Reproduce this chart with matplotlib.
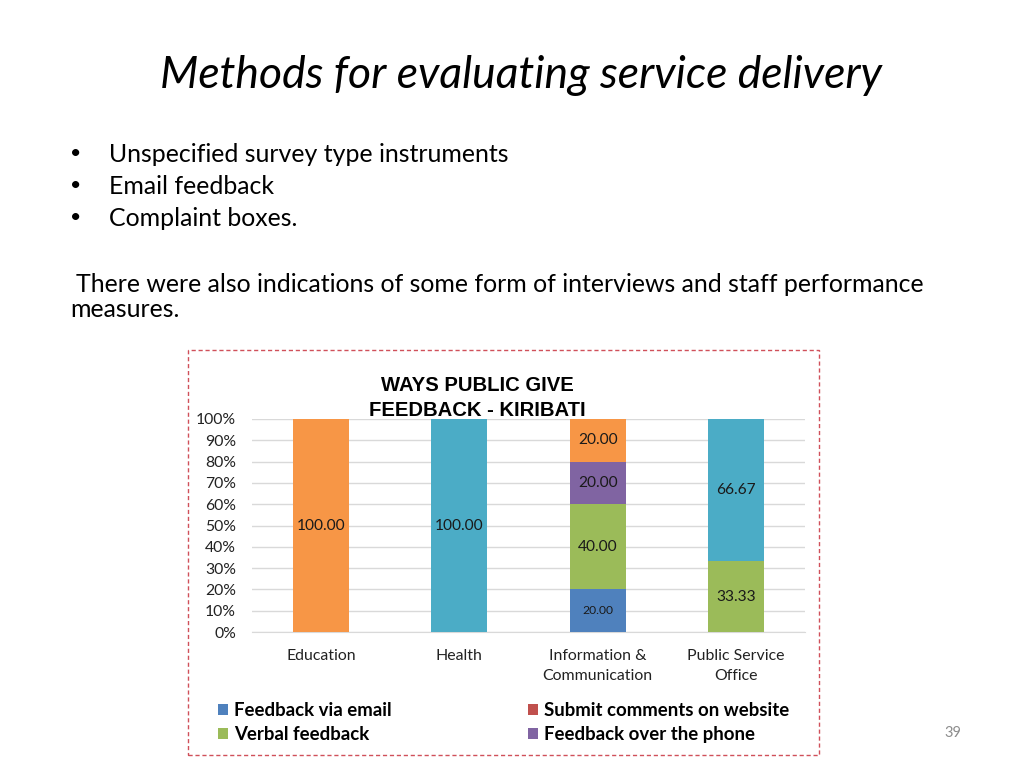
import numpy as np
import matplotlib.pyplot as plt
from matplotlib.patches import Rectangle, Patch

# Categories and series (percent share per sector)
categories = ['Education', 'Health', 'Information &\nCommunication', 'Public Service\nOffice']
email = [0, 0, 20.00, 0]
website = [0, 0, 0, 0]
verbal = [0, 0, 40.00, 33.33]
phone = [0, 0, 20.00, 0]
other_cyan = [0, 100.00, 0, 66.67]
other_orange = [100.00, 0, 20.00, 0]

series = [
    ('Feedback via email', email, '#4F81BD'),
    ('Submit comments on website', website, '#C0504D'),
    ('Verbal feedback', verbal, '#9BBB59'),
    ('Feedback over the phone', phone, '#8064A2'),
    ('_cyan', other_cyan, '#4BACC6'),
    ('_orange', other_orange, '#F79646'),
]

bullets = ['Unspecified survey type instruments', 'Email feedback', 'Complaint boxes.']

body_font = 'Lato'

fig = plt.figure(figsize=(10.24, 7.68), dpi=100)
W, H = 1024, 768

def fx(px):
    return px / W

def fy(py):
    return 1 - py / H

# Slide title and text
fig.text(fx(521), fy(75), 'Methods for evaluating service delivery', ha='center', va='center',
         fontsize=32, style='italic', family=body_font, color='black')
for i, b in enumerate(bullets):
    y = fy(154 + 32 * i)
    fig.text(fx(70), y, '\u2022', ha='left', va='center', fontsize=14, family=body_font)
    fig.text(fx(109), y, b, ha='left', va='center', fontsize=17.9, family=body_font)
fig.text(fx(76), fy(284), 'There were also indications of some form of interviews and staff performance',
         ha='left', va='center', fontsize=17.9, family=body_font)
fig.text(fx(70), fy(310), 'measures.', ha='left', va='center', fontsize=17.9, family=body_font)
fig.text(fx(953), fy(733), '39', ha='center', va='center', fontsize=10.5, color='#8C8C8C', family=body_font)

# Dashed frame around chart
fig.patches.append(Rectangle((fx(188), fy(755)), fx(819) - fx(188), fy(350) - fy(755),
                             transform=fig.transFigure, fill=False, edgecolor='#D0505A',
                             linestyle=(0, (3, 2)), linewidth=1.0))

# Chart
ax = fig.add_axes([fx(252), fy(632), fx(805) - fx(252), fy(419) - fy(632)])
x = np.arange(len(categories))
bottom = np.zeros(len(categories))
for name, vals, color in series:
    vals = np.array(vals, dtype=float)
    ax.bar(x, vals, 0.405, bottom=bottom, color=color, label=name, zorder=3)
    for xi, v, b0 in zip(x, vals, bottom):
        if v > 0:
            fs = 8.7 if color == '#4F81BD' else 11.2
            ax.text(xi, b0 + v / 2, f'{v:.2f}', ha='center', va='center', fontsize=fs,
                    family=body_font, color='#1a1a1a', zorder=4)
    bottom += vals

ax.set_xlim(-0.5, 3.5)
ax.set_ylim(0, 100)
ax.set_yticks(np.arange(0, 101, 10))
ax.set_yticklabels([f'{t}%' for t in range(0, 101, 10)], family=body_font, fontsize=11.3)
ax.set_xticks(x)
ax.set_xticklabels(categories, family=body_font, fontsize=11.4, linespacing=1.6)
ax.tick_params(length=0, colors='#222222')
ax.tick_params(axis='x', pad=12)
ax.tick_params(axis='y', pad=11.5)
ax.grid(axis='y', color='#D9D9D9', linewidth=1, zorder=0)
for s in ['top', 'right', 'left']:
    ax.spines[s].set_visible(False)
ax.spines['bottom'].set_color('#D9D9D9')

fig.text(fx(477), fy(398), 'WAYS PUBLIC GIVE\nFEEDBACK - KIRIBATI', ha='center', va='center',
         fontsize=14.6, fontweight='bold', family='Liberation Sans', linespacing=1.4)

# Legend (only the four entries shown in the reference)
handles = [Patch(facecolor=c, label=n) for n, v, c in series[:4]]
order = [handles[0], handles[2], handles[1], handles[3]]
fig.legend(handles=order, loc='upper left', bbox_to_anchor=(fx(218), fy(702)), ncol=2,
           frameon=False, prop={'family': body_font, 'weight': 'bold', 'size': 13.4},
           handlelength=0.55, handleheight=0.55, handletextpad=0.3, columnspacing=7.34,
           labelspacing=0.38, borderpad=0, borderaxespad=0)

fig.savefig('out.png', dpi=100)
